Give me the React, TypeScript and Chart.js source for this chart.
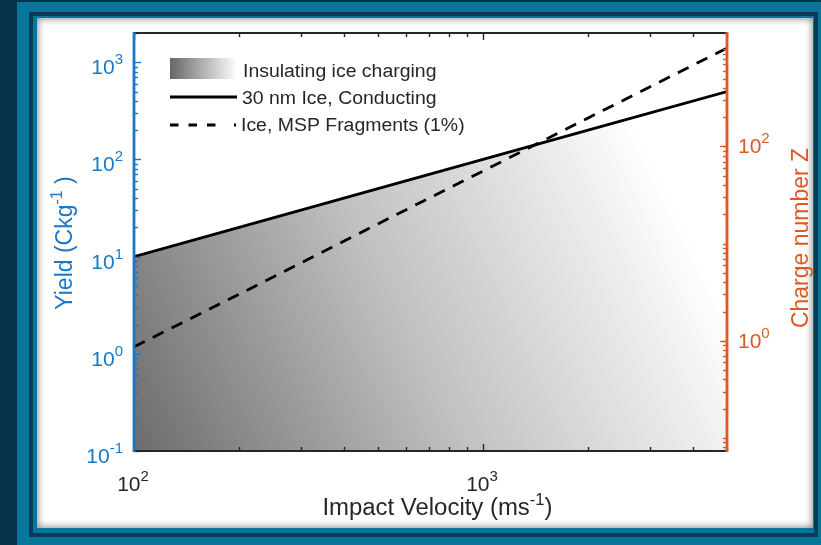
import { useEffect, useRef } from 'react';
import { Chart, registerables } from 'chart.js';

Chart.register(...registerables);

// ---------------- data ----------------
const velocity = [100, 200, 500, 1000, 2000, 5000];
const conductingYield = [10, 20, 50, 100, 200, 500];
const mspYield = [1.18, 4.1, 21.7, 76, 267, 1400];

const seriesLabels = ['Insulating ice charging', '30 nm Ice, Conducting', 'Ice, MSP Fragments (1%)'];

const xMajorTicks = [100, 1000];
const xTickExponents = ['2', '3'];
const yMajorTicks = [0.1, 1, 10, 100, 1000];
const yTickExponents = ['-1', '0', '1', '2', '3'];
const y2MajorTicks = [1, 100];
const y2TickExponents = ['0', '2'];

const xTitle = ['Impact Velocity (ms', '-1', ')'];
const yTitle = ['Yield (Ckg', '-1', ' )'];
const y2Title = 'Charge number Z';

const X_MIN = 100, X_MAX = 5000;
const Y_MIN = 0.1, Y_MAX = 2000;
const Y2_MIN = 0.0735, Y2_MAX = 1470;

// ---------------- style ----------------
const FONT = '"Liberation Sans", Arial, Helvetica, sans-serif';
const BLUE = '#1a78c6';
const ORANGE = '#dc5a22';
const DARK = '#262626';

function minorTicks(min: number, max: number) {
  const out: number[] = [];
  for (let e = -3; e <= 4; e++) {
    const d = Math.pow(10, e);
    for (let k = 2; k <= 9; k++) {
      const v = k * d;
      if (v >= min * 0.999 && v <= max * 1.001) out.push(v);
    }
  }
  return out;
}
function decades(min: number, max: number) {
  const out: number[] = [];
  for (let e = -3; e <= 4; e++) {
    const v = Math.pow(10, e);
    if (v >= min * 0.999 && v <= max * 1.001) out.push(v);
  }
  return out;
}

function textW(ctx: CanvasRenderingContext2D, s: string, size: number) {
  ctx.font = `${size}px ${FONT}`;
  return ctx.measureText(s).width;
}

// draw a sequence of [text, size, rise] parts with horizontal stretch sx, aligned at x
function drawParts(
  ctx: CanvasRenderingContext2D,
  parts: [string, number, number][],
  x: number,
  y: number,
  color: string,
  align: 'left' | 'center' | 'right',
  sx = 1
) {
  let w = 0;
  for (const p of parts) w += textW(ctx, p[0], p[1]) * sx;
  let x0 = align === 'left' ? x : align === 'right' ? x - w : x - w / 2;
  ctx.save();
  ctx.fillStyle = color;
  ctx.textAlign = 'left';
  ctx.textBaseline = 'alphabetic';
  for (const p of parts) {
    const pw = textW(ctx, p[0], p[1]);
    ctx.save();
    ctx.translate(x0, y - p[2]);
    ctx.scale(sx, 1);
    ctx.font = `${p[1]}px ${FONT}`;
    ctx.fillText(p[0], 0, 0);
    ctx.restore();
    x0 += pw * sx;
  }
  ctx.restore();
  return w;
}

function line(ctx: CanvasRenderingContext2D, x1: number, y1: number, x2: number, y2: number) {
  ctx.beginPath();
  ctx.moveTo(x1, y1);
  ctx.lineTo(x2, y2);
  ctx.stroke();
}

const decorPlugin = {
  id: 'decor',
  afterDraw(chart: any) {
    const ctx: CanvasRenderingContext2D = chart.ctx;
    const a = chart.chartArea;
    const xs = chart.scales.x;
    const ys = chart.scales.y;
    const y2s = chart.scales.y2;
    ctx.save();

    // ---- x ticks (bottom & top) ----
    ctx.strokeStyle = DARK;
    ctx.lineWidth = 1.4;
    for (const v of minorTicks(X_MIN, X_MAX)) {
      const px = Math.round(xs.getPixelForValue(v)) + 0.5;
      line(ctx, px, a.bottom, px, a.bottom - 4);
      line(ctx, px, a.top, px, a.top + 4);
    }
    for (const v of xMajorTicks) {
      const px = Math.round(xs.getPixelForValue(v)) + 0.5;
      line(ctx, px, a.bottom, px, a.bottom - 7);
      line(ctx, px, a.top, px, a.top + 7);
    }
    // ---- left ticks ----
    ctx.strokeStyle = BLUE;
    for (const v of minorTicks(Y_MIN, Y_MAX)) {
      const py = Math.round(ys.getPixelForValue(v)) + 0.5;
      line(ctx, a.left, py, a.left + 4, py);
    }
    for (const v of decades(Y_MIN, Y_MAX)) {
      const py = Math.round(ys.getPixelForValue(v)) + 0.5;
      line(ctx, a.left, py, a.left + 7, py);
    }
    // ---- right ticks ----
    ctx.strokeStyle = ORANGE;
    for (const v of minorTicks(Y2_MIN, Y2_MAX).concat(decades(Y2_MIN, Y2_MAX))) {
      const py = Math.round(y2s.getPixelForValue(v)) + 0.5;
      line(ctx, a.right, py, a.right - 4, py);
    }
    for (const v of y2MajorTicks) {
      const py = Math.round(y2s.getPixelForValue(v)) + 0.5;
      line(ctx, a.right, py, a.right - 7, py);
    }

    // ---- box ----
    ctx.lineWidth = 2.2;
    ctx.strokeStyle = DARK;
    line(ctx, a.left, a.top, a.right, a.top);
    line(ctx, a.left, a.bottom, a.right, a.bottom);
    ctx.lineWidth = 2.8;
    ctx.strokeStyle = BLUE;
    line(ctx, a.left, a.top - 1, a.left, a.bottom + 1);
    ctx.strokeStyle = ORANGE;
    line(ctx, a.right, a.top - 1, a.right, a.bottom + 1);

    // ---- tick labels ----
    xMajorTicks.forEach((v, i) => {
      const px = xs.getPixelForValue(v);
      drawParts(ctx, [['10', 21, 0], [xTickExponents[i], 15, 10]], px - 1, a.bottom + 40, DARK, 'center');
    });
    yMajorTicks.forEach((v, i) => {
      const py = ys.getPixelForValue(v);
      drawParts(ctx, [['10', 21, 0], [yTickExponents[i], 15, 10]], a.left - 11, py + 12, BLUE, 'right');
    });
    y2MajorTicks.forEach((v, i) => {
      const py = y2s.getPixelForValue(v);
      drawParts(ctx, [['10', 21, 0], [y2TickExponents[i], 15, 10]], a.right + 11, py + 7, ORANGE, 'left');
    });

    // ---- axis titles ----
    drawParts(ctx, [[xTitle[0], 23, 0], [xTitle[1], 16, 10], [xTitle[2], 23, 0]], (a.left + a.right) / 2 + 7, a.bottom + 64, DARK, 'center', 1.04);

    ctx.save();
    ctx.translate(72, (a.top + a.bottom) / 2 + 1);
    ctx.rotate(-Math.PI / 2);
    drawParts(ctx, [[yTitle[0], 23, 0], [yTitle[1], 16, 10], [yTitle[2], 23, 0]], 0, 0, BLUE, 'center');
    ctx.restore();

    ctx.save();
    ctx.translate(808, (a.top + a.bottom) / 2 - 4);
    ctx.rotate(-Math.PI / 2);
    drawParts(ctx, [[y2Title, 23, 0]], 0, 0, ORANGE, 'center');
    ctx.restore();

    // ---- legend ----
    const lx = a.left + 36;
    const g = ctx.createLinearGradient(lx, 0, lx + 65, 0);
    g.addColorStop(0, '#666666');
    g.addColorStop(1, '#fafafa');
    ctx.fillStyle = g;
    ctx.fillRect(lx, a.top + 25, 65, 21);
    drawParts(ctx, [[chart.data.datasets[0].label, 18, 0]], lx + 73, a.top + 44, DARK, 'left', 1.08);

    ctx.strokeStyle = '#000';
    ctx.lineWidth = 2.8;
    line(ctx, lx, a.top + 64, lx + 67, a.top + 64);
    drawParts(ctx, [[chart.data.datasets[1].label, 18, 0]], lx + 72, a.top + 71, DARK, 'left', 1.08);

    ctx.setLineDash([8.5, 10]);
    line(ctx, lx, a.top + 92, lx + 46, a.top + 92);
    ctx.setLineDash([]);
    line(ctx, lx + 64, a.top + 92, lx + 66, a.top + 92);
    drawParts(ctx, [[chart.data.datasets[2].label, 18, 0]], lx + 71, a.top + 98, DARK, 'left', 1.08);

    ctx.restore();
  },
};

export default function App() {
  const ref = useRef<HTMLCanvasElement | null>(null);

  useEffect(() => {
    if (!ref.current) return;
    const pts = (ys: number[]) => velocity.map((v, i) => ({ x: v, y: ys[i] }));
    const chart = new Chart(ref.current, {
      type: 'line',
      data: {
        datasets: [
          {
            label: seriesLabels[0],
            data: pts(conductingYield),
            borderWidth: 0,
            pointRadius: 0,
            fill: 'start',
            order: 3,
            backgroundColor: (c: any) => {
              const a = c.chart.chartArea;
              if (!a) return '#aaaaaa';
              const w = a.right - a.left;
              const h = a.bottom - a.top;
              const g = c.chart.ctx.createLinearGradient(a.left, a.bottom, a.left + 0.9 * w, a.bottom - 0.62 * h);
              g.addColorStop(0, '#6c6c6c');
              g.addColorStop(0.5, '#c0c0c0');
              g.addColorStop(0.85, '#ebebeb');
              g.addColorStop(1, '#ffffff');
              return g;
            },
            yAxisID: 'y',
          },
          {
            label: seriesLabels[1],
            data: pts(conductingYield),
            borderColor: '#000000',
            borderWidth: 2.8,
            pointRadius: 0,
            fill: false,
            order: 1,
            yAxisID: 'y',
          },
          {
            label: seriesLabels[2],
            data: pts(mspYield),
            borderColor: '#000000',
            borderWidth: 2.8,
            borderDash: [12, 9],
            pointRadius: 0,
            fill: false,
            order: 2,
            yAxisID: 'y',
          },
        ],
      },
      options: {
        responsive: false,
        animation: false,
        layout: { padding: { top: 33, left: 0, right: 0, bottom: 0 } },
        plugins: { legend: { display: false }, tooltip: { enabled: false } },
        elements: { line: { tension: 0 } },
        scales: {
          x: {
            type: 'logarithmic',
            min: X_MIN,
            max: X_MAX,
            position: 'bottom',
            grid: { display: false },
            border: { display: false },
            ticks: { display: false },
            afterFit: (s: any) => { s.height = 94; },
          },
          y: {
            type: 'logarithmic',
            min: Y_MIN,
            max: Y_MAX,
            position: 'left',
            grid: { display: false },
            border: { display: false },
            ticks: { display: false },
            afterFit: (s: any) => { s.width = 134; },
          },
          y2: {
            type: 'logarithmic',
            min: Y2_MIN,
            max: Y2_MAX,
            position: 'right',
            grid: { display: false },
            border: { display: false },
            ticks: { display: false },
            afterFit: (s: any) => { s.width = 94; },
          },
        },
      } as any,
      plugins: [decorPlugin],
    });
    return () => chart.destroy();
  }, []);

  return (
    <div style={{ position: 'fixed', left: 0, top: 0, width: 821, height: 545, background: '#06324b', overflow: 'hidden' }}>
      <div style={{ position: 'absolute', left: 17, top: 2, width: 804, height: 543, background: '#07769c' }} />
      <div
        style={{
          position: 'absolute',
          left: 29,
          top: 12,
          width: 789,
          height: 525,
          boxSizing: 'border-box',
          border: '4px solid #053d57',
          background: '#07769c',
        }}
      />
      <div
        style={{
          position: 'absolute',
          left: 37,
          top: 18,
          width: 776,
          height: 510,
          background: '#ffffff',
          boxShadow: 'inset 0 0 7px 1px rgba(0,0,0,0.45)',
        }}
      />
      <canvas ref={ref} width={821} height={545} style={{ position: 'absolute', left: 0, top: 0, width: 821, height: 545 }} />
    </div>
  );
}
